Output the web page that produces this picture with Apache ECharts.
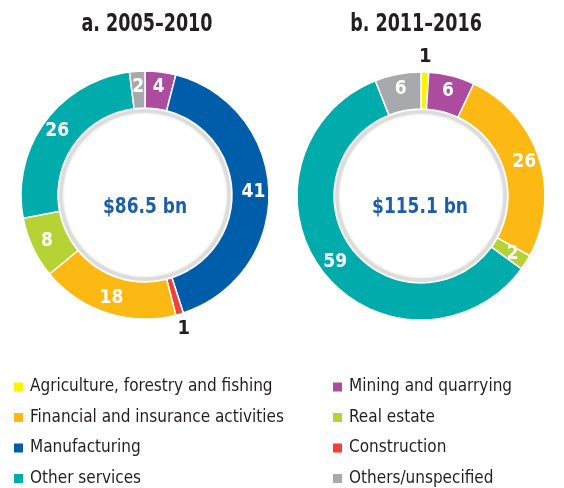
<!DOCTYPE html>
<html>
<head>
<meta charset="utf-8">
<script src="https://cdn.jsdelivr.net/npm/echarts@6/dist/echarts.min.js"></script>
<style>
html,body{margin:0;padding:0;background:#fff;}
#chart{width:564px;height:488px;}
</style>
</head>
<body>
<div id="chart"></div>
<script>
const categories = ['Agriculture, forestry and fishing','Mining and quarrying','Manufacturing','Construction','Financial and insurance activities','Real estate','Other services','Others/unspecified'];
const colors = ['#fff200','#ab4c9e','#005daa','#ee4137','#fdb913','#b5d334','#00abab','#a7a9ac'];
const shares2005 = [0,4,41,1,18,8,26,2];
const shares2011 = [1,6,0,0,26,2,59,6];
const panelTitles = ['a. 2005–2010','b. 2011–2016'];
const totals = ['$86.5 bn','$115.1 bn'];
const legendLeft = ['Agriculture, forestry and fishing','Financial and insurance activities','Manufacturing','Other services'];
const legendRight = ['Mining and quarrying','Real estate','Construction','Others/unspecified'];

const FONT = "'DejaVu Sans Condensed','Liberation Sans Narrow','Liberation Sans',sans-serif";
const centers = [[145,195],[421,196]];
const R_IN = 87, R_OUT = 124;

function buildData(vals, overlay) {
  const out = [];
  vals.forEach((v,i)=>{
    if (v <= 0) return;
    const small = v <= 1;
    out.push({
      name: categories[i], value: v,
      itemStyle: overlay ? {color:'rgba(0,0,0,0)', borderWidth:0} : {color: colors[i]},
      label: overlay ? {show: small} : {show: !small}
    });
  });
  return out;
}

const series = [];
[shares2005, shares2011].forEach((vals, k)=>{
  series.push({
    type:'pie', center: centers[k], radius:[R_IN, R_OUT], startAngle:90, clockwise:true, z:3,
    avoidLabelOverlap:false, animation:false,
    itemStyle:{borderColor:'#fff', borderWidth:1.5},
    label:{position:'inside', color:'#fff', fontFamily:FONT, fontWeight:'bold', fontSize:19, formatter:'{c}'},
    labelLine:{show:false},
    emphasis:{disabled:true},
    data: buildData(vals, false)
  });
});
[shares2005, shares2011].forEach((vals, k)=>{
  // inner disc with grey rim
  series.push({
    type:'pie', silent:true, center: centers[k], radius:[0, 84], z:1,
    label:{show:false}, labelLine:{show:false}, legendHoverLink:false, animation:false,
    data:[{name:'_disc'+k, value:1, itemStyle:{color:'#fff', borderColor:'#dcdcdc', borderWidth:3, shadowBlur:3, shadowColor:'rgba(0,0,0,0.18)'}}]
  });
});
[shares2005, shares2011].forEach((vals, k)=>{
  series.push({
    type:'pie', center: centers[k], radius:[R_OUT, 148], startAngle:90, clockwise:true, z:2,
    avoidLabelOverlap:false, animation:false, silent:true, legendHoverLink:false,
    label:{position:'inside', color:'#231f20', fontFamily:FONT, fontWeight:'bold', fontSize:20, formatter:'{c}'},
    labelLine:{show:false},
    emphasis:{disabled:true},
    data: buildData(vals, true)
  });
});

const legendCommon = {
  orient:'vertical', icon:'rect', itemWidth:11, itemHeight:11, itemGap:10.5, height:140,
  selectedMode:false,
  textStyle:{fontFamily:FONT, fontSize:17, color:'#231f20', lineHeight:20, padding:[0,0,0,1]}
};

const option = {
  backgroundColor:'#fff',
  animation:false,
  legend:[
    Object.assign({}, legendCommon, {left:7, top:372, data: legendLeft}),
    Object.assign({}, legendCommon, {left:326, top:372, data: legendRight})
  ],
  graphic: [0,1].flatMap(k=>[
    {type:'text', x: k===0?147:416, y:24, scaleX:0.78, style:{text: panelTitles[k], align:'center', verticalAlign:'middle', fontFamily:FONT, fontWeight:'bold', fontSize:25, fill:'#231f20'}},
    {type:'text', x: k===0?145:420, y:207, z:10, scaleX:0.86, style:{text: totals[k], align:'center', verticalAlign:'middle', fontFamily:FONT, fontWeight:'bold', fontSize:22, fill:'#1c5ea8'}}
  ]),
  series: series
};

const chart = echarts.init(document.getElementById('chart'), null, {renderer:'canvas'});
chart.setOption(option);
</script>
</body>
</html>
